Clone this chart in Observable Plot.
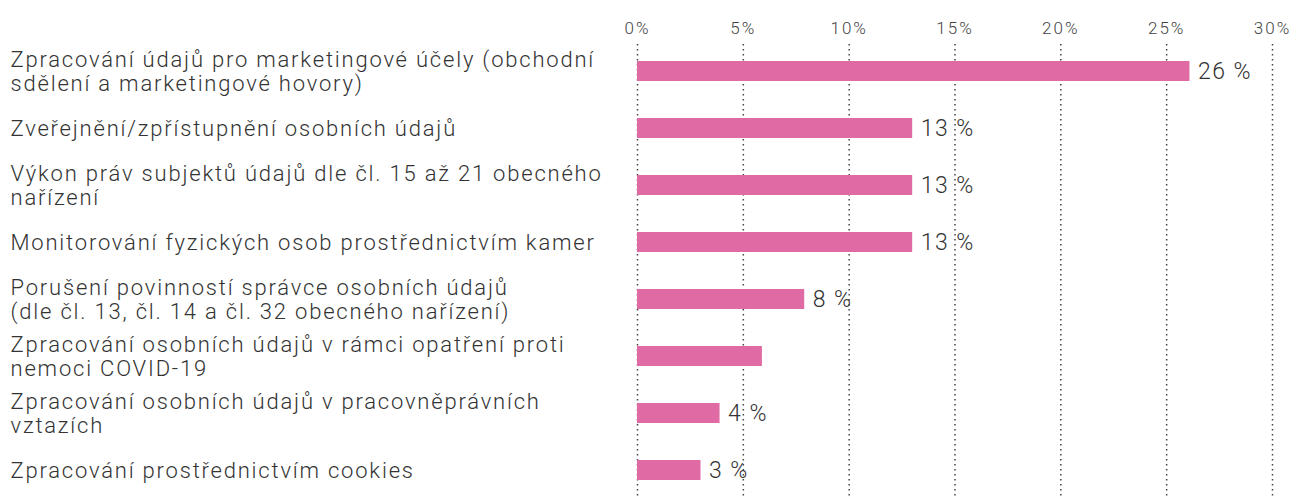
<!DOCTYPE html>
<html>
<head>
<meta charset="utf-8">
<script src="https://cdn.jsdelivr.net/npm/d3@7"></script>
<script src="https://cdn.jsdelivr.net/npm/@observablehq/plot@0.6"></script>
<style>
  html, body { margin: 0; padding: 0; background: #fff; }
  #chart svg { display: block; }
</style>
</head>
<body>
<div id="chart"></div>
<script>
const categories = [
  "Zpracování údajů pro marketingové účely (obchodní\nsdělení a marketingové hovory)",
  "Zveřejnění/zpřístupnění osobních údajů",
  "Výkon práv subjektů údajů dle čl. 15 až 21 obecného\nnařízení",
  "Monitorování fyzických osob prostřednictvím kamer",
  "Porušení povinností správce osobních údajů\n(dle čl. 13, čl. 14 a čl. 32 obecného nařízení)",
  "Zpracování osobních údajů v rámci opatření proti\nnemoci COVID-19",
  "Zpracování osobních údajů v pracovněprávních\nvztazích",
  "Zpracování prostřednictvím cookies"
];
const values = [26.1, 13, 13, 13, 7.9, 5.9, 3.9, 3.0];
const valueLabels = ["26 %", "13 %", "13 %", "13 %", "8 %", "", "4 %", "3 %"];
const xTicks = [0, 5, 10, 15, 20, 25, 30];
const tickLabels = ["0%", "5%", "10%", "15%", "20%", "25%", "30%"];

const data = categories.map((c, i) => ({cat: c, value: values[i], label: valueLabels[i]}));

const font = "Roboto, sans-serif";
const chart = Plot.plot({
  width: 1293,
  height: 497,
  marginLeft: 637,
  marginRight: 21,
  marginTop: 44,
  marginBottom: 0,
  style: {fontFamily: font, background: "#fff", color: "#333", overflow: "visible"},
  x: {domain: [0, 30], axis: null},
  y: {domain: categories, axis: null, paddingInner: 0.65, paddingOuter: 0.29},
  marks: [
    Plot.ruleX(xTicks, {stroke: "#444", strokeWidth: 1.5, strokeDasharray: "1.5,3.5"}),
    Plot.barX(data, {y: "cat", x: "value", fill: "#E06AA3"}),
    Plot.text(xTicks, {x: d => d, text: (d, i) => tickLabels[i], frameAnchor: "top", dy: -23, fontSize: 17, fill: "#444", fontWeight: 300}),
    Plot.text(data, {y: "cat", x: "value", text: "label", textAnchor: "start", dx: 8, fontSize: 23, fill: "#333", fontWeight: 300}),
    Plot.text(data, {y: "cat", text: "cat", frameAnchor: "left", textAnchor: "start", dx: -627, fontSize: 22, lineHeight: 1.08, fill: "#333", fontWeight: 300})
  ]
});
// letter spacing to match the wider reference typeface
const svgTexts = chart.querySelectorAll("g[aria-label='text']");
svgTexts.forEach((g, i) => { g.style.letterSpacing = i === 0 ? "2px" : (i === 1 ? "1.5px" : "1.8px"); });
document.getElementById("chart").appendChild(chart);
</script>
</body>
</html>
